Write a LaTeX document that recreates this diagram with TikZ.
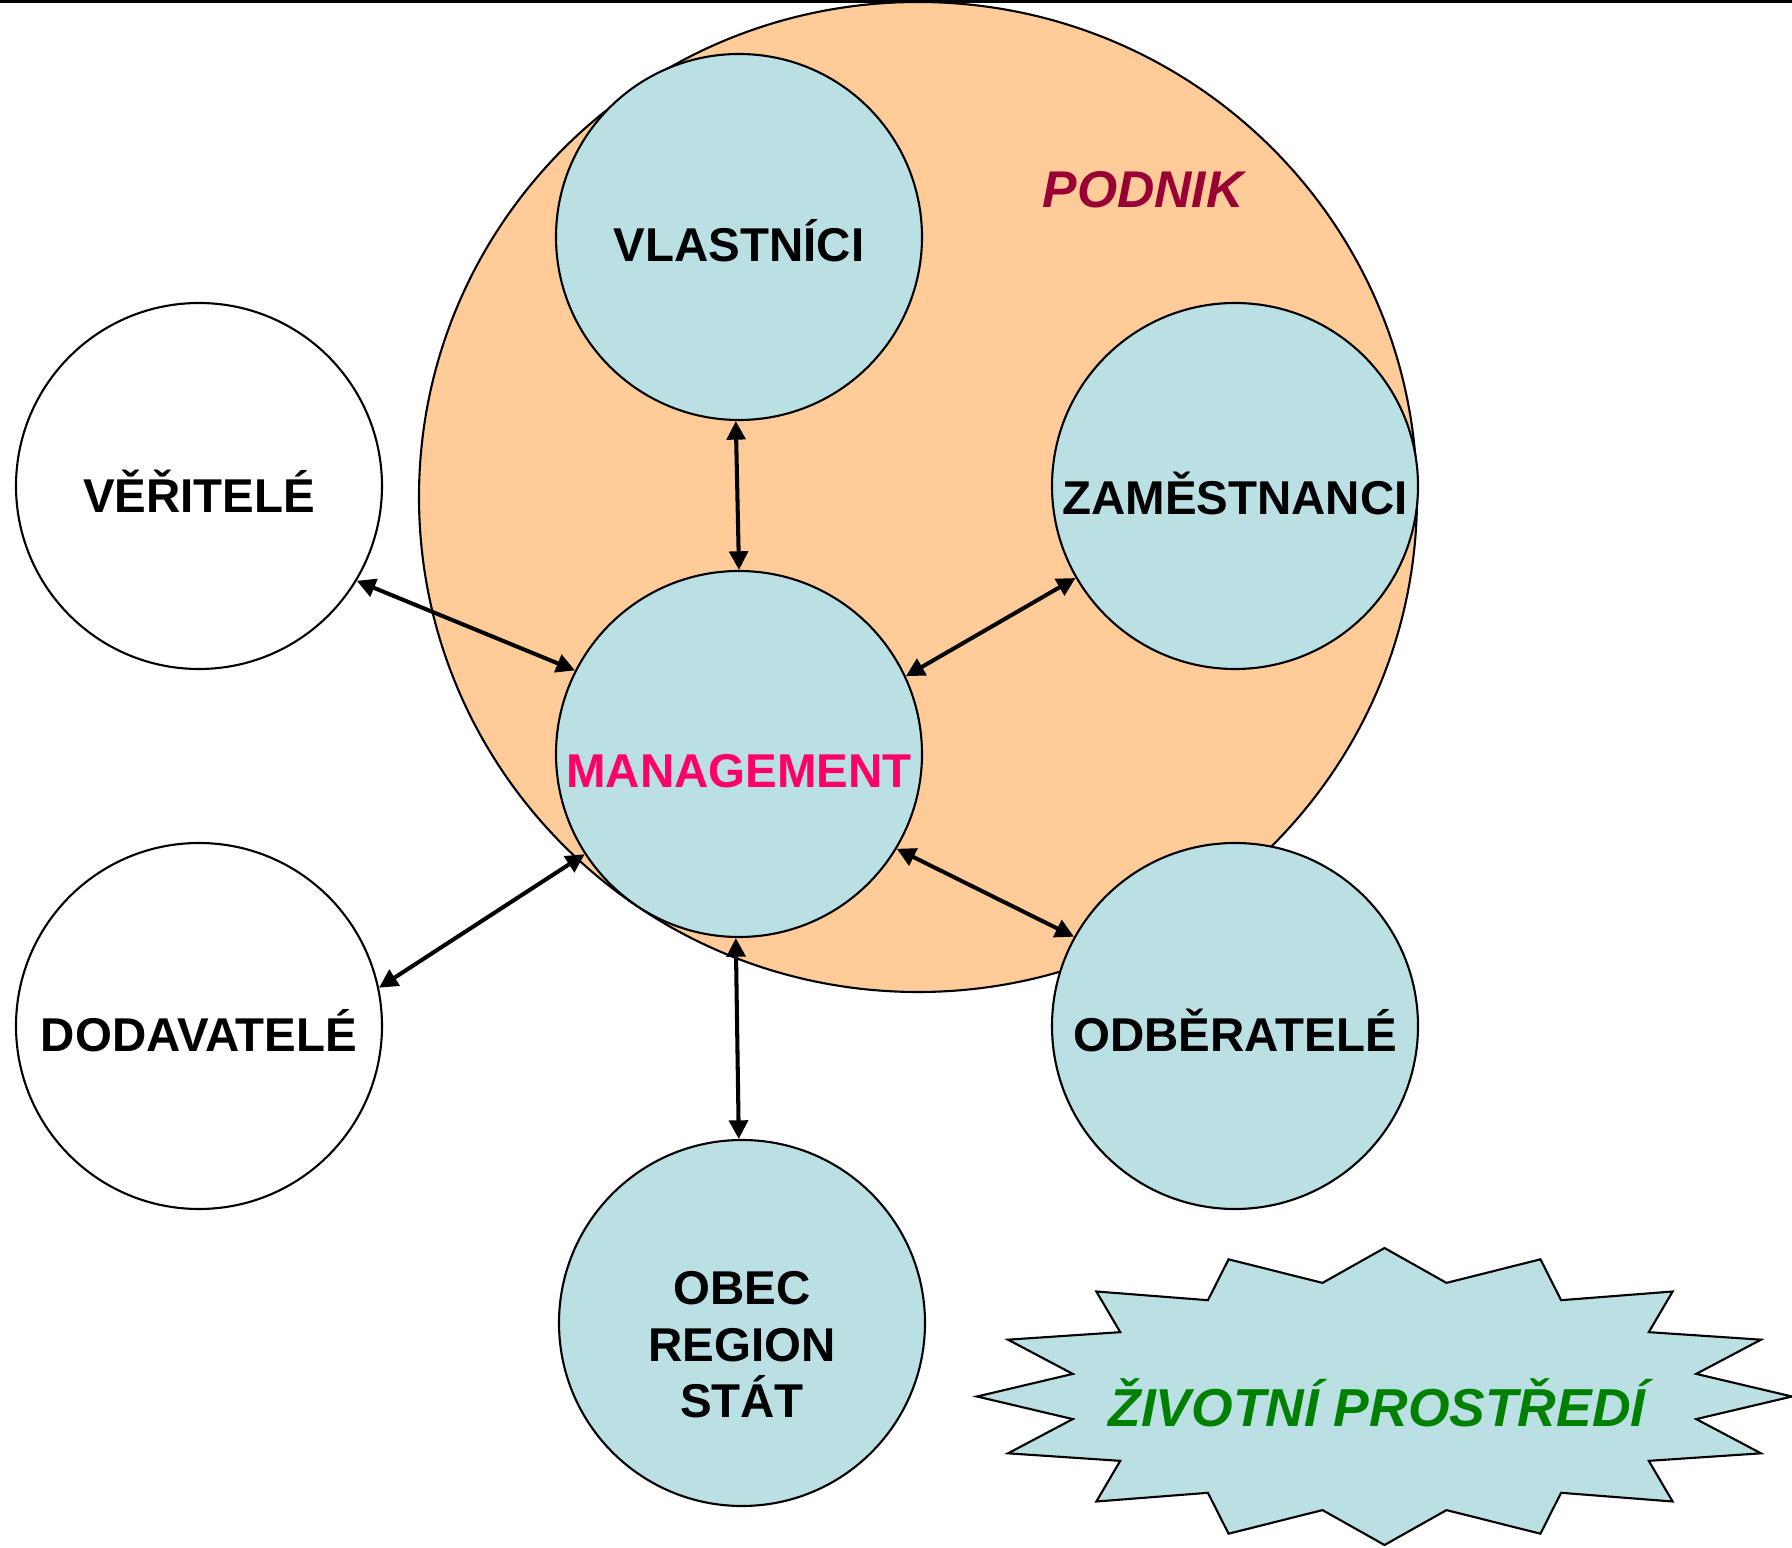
\documentclass[tikz,border=0pt]{standalone}
\usepackage{fontspec}
\setmainfont{Liberation Sans}
\usepackage{tikz}
\usetikzlibrary{arrows.meta}
\definecolor{peach}{HTML}{FFCC99}
\definecolor{lagoon}{HTML}{BBE0E3}
\definecolor{wine}{HTML}{990033}
\definecolor{rosy}{HTML}{FF0066}
\definecolor{leaf}{HTML}{008000}

\begin{document}
\begin{tikzpicture}[party/.style={draw,circle,line width=0.6pt,fill=lagoon,minimum size=3.66cm,inner sep=0},
    ptext/.style={font=\fontsize{13.5pt}{16.1pt}\selectfont\bfseries},
    flat/.style={text height=9.7pt,text depth=0pt},
    link/.style={{Triangle[length=5.3pt,width=5.3pt]}-{Triangle[length=5.3pt,width=5.3pt]},line width=1.15pt}]
        \useasboundingbox (0,0) rectangle (17.92,-15.48);
        \draw[line width=0.85pt] (0,-0.015) -- (17.92,-0.015);
        \draw[fill=peach,line width=0.6pt] (9.18,-4.97) ellipse (4.99 and 4.95);
        \node[font=\fontsize{14.7pt}{17pt}\selectfont\bfseries\itshape,text=wine] (pd) at (11.43,-1.90) {PODNIK};
        \node[party,label={[ptext,flat,shift={(0,-0.07)}]center:VLASTNÍCI}] (vl) at (7.39,-2.37) {};
        \node[party,fill=white,label={[ptext,flat,shift={(0,-0.09)}]center:VĚŘITELÉ}] (vr) at (1.99,-4.86) {};
        \node[party,label={[ptext,flat,shift={(0,-0.11)}]center:ZAMĚSTNANCI}] (za) at (12.35,-4.86) {};
        \node[party,label={[ptext,flat,text=rosy,shift={(0,-0.16)}]center:MANAGEMENT}] (mg) at (7.39,-7.54) {};
        \node[party,fill=white,label={[ptext,flat,shift={(0,-0.08)}]center:DODAVATELÉ}] (dd) at (1.99,-10.26) {};
        \node[party,label={[ptext,flat,shift={(0,-0.08)}]center:ODBĚRATELÉ}] (od) at (12.35,-10.26) {};
        \node[party,label={[ptext,align=center,shift={(0,-0.22)}]center:OBEC\\REGION\\STÁT}] (ob) at (7.42,-13.23) {};
        \draw[link] (vl.-91.5) -- (mg.90.5);
        \draw[link] (vr.-31.5) -- (mg.153);
        \draw[link] (za.210) -- (mg.25);
        \draw[link] (dd.12) -- (mg.213);
        \draw[link] (od.151) -- (mg.-31.5);
        \draw[link] (mg.-91.5) -- (ob.91.5);
        \draw[fill=lagoon,line width=0.6pt,shift={(13.845,-13.965)},xscale=4.075,yscale=1.485] (0:1)
          \foreach \k in {1,...,31} { -- ({\k*11.25}:{1-0.22*mod(\k,2)}) } -- cycle;
        \node[font=\fontsize{15.2pt}{18pt}\selectfont\bfseries\itshape,text=leaf] (zp) at (13.77,-14.03) {ŽIVOTNÍ PROSTŘEDÍ};
      \end{tikzpicture}
\end{document}
